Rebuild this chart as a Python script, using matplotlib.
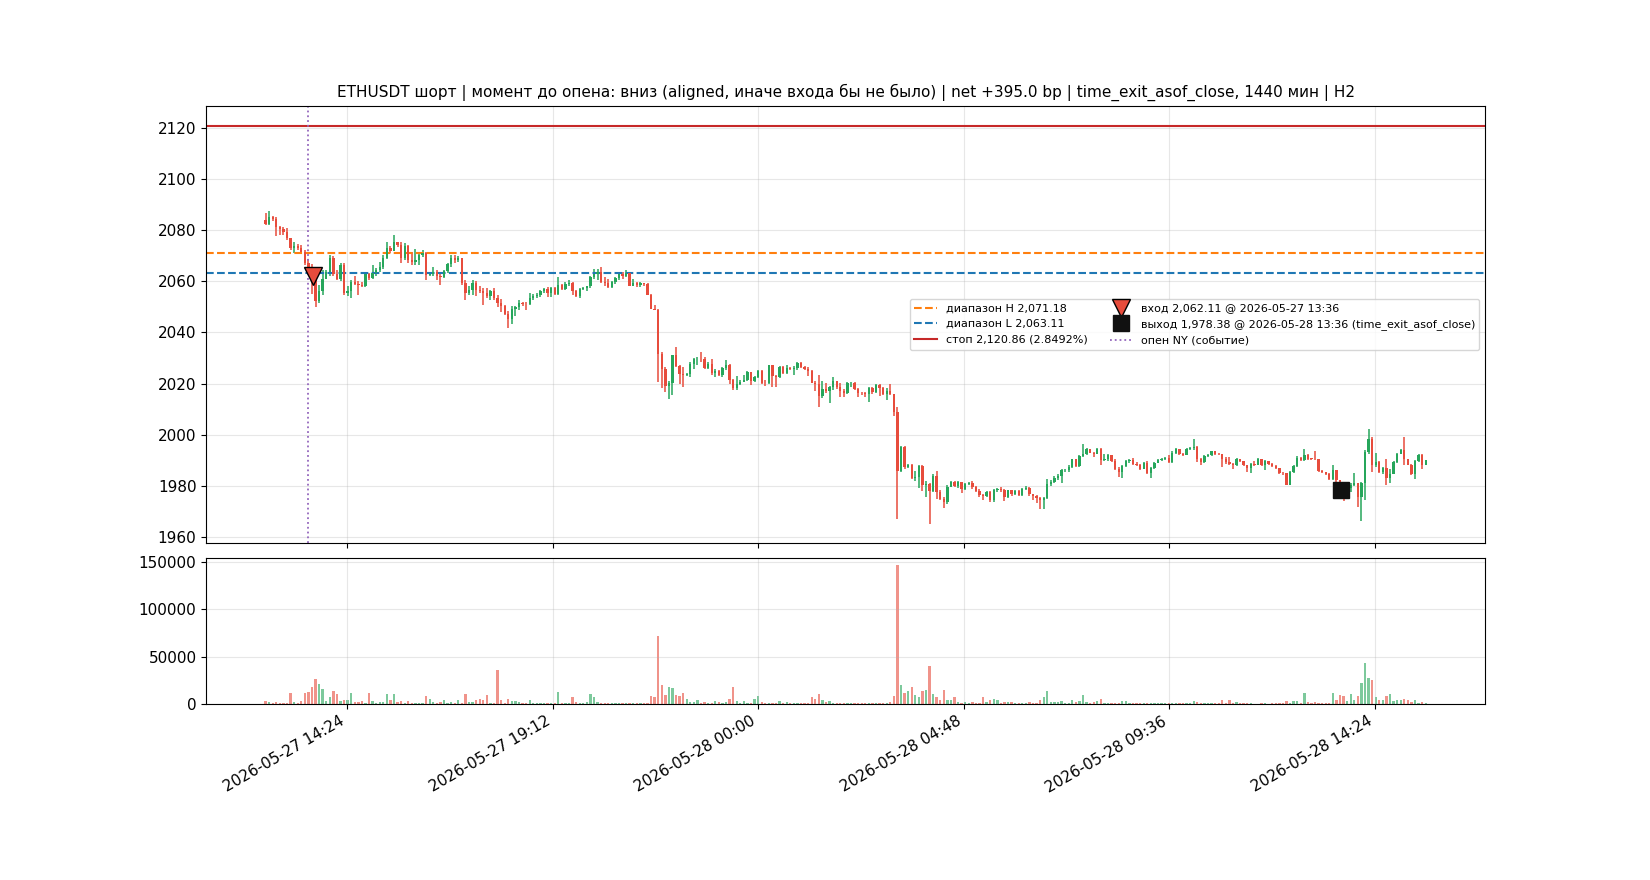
import numpy as np
import pandas as pd
import matplotlib
matplotlib.use('Agg')
import matplotlib.pyplot as plt
import matplotlib.dates as mdates

# ========= DATA (5-min candles) =========

start_time = '2026-05-27 12:30'
first_open = 2084.0

close = [
    2082.2, 2085.0, 2084.2, 2081.3, 2080.6, 2079.1, 2076.8, 2072.9, 2073.6, 2073.0,
    2071.6, 2067.3, 2065.7, 2064.0, 2052.1, 2056.0, 2061.0, 2063.5, 2069.2, 2062.7,
    2061.0, 2066.4, 2055.4, 2056.3, 2059.6, 2059.0, 2058.6, 2058.3, 2062.7, 2061.4,
    2063.1, 2064.4, 2065.7, 2069.2, 2072.9, 2072.0, 2075.2, 2074.1, 2069.0, 2073.8,
    2068.3, 2067.7, 2068.3, 2070.3, 2071.0, 2062.5, 2062.7, 2063.5, 2062.2, 2061.8,
    2064.0, 2066.6, 2069.2, 2068.3, 2069.2, 2059.2, 2055.4, 2056.7, 2059.2, 2056.7,
    2056.0, 2055.4, 2054.1, 2056.3, 2053.4, 2051.5, 2050.3, 2047.3, 2045.3, 2049.0,
    2049.9, 2051.6, 2051.2, 2051.0, 2053.4, 2054.4, 2054.6, 2056.0, 2057.0, 2055.3,
    2057.4, 2055.0, 2058.6, 2057.0, 2059.0, 2059.4, 2056.0, 2054.2, 2057.0, 2057.4,
    2058.0, 2061.6, 2062.9, 2063.8, 2059.6, 2059.2, 2057.7, 2059.6, 2061.2, 2062.9,
    2062.0, 2063.2, 2058.3, 2059.2, 2058.6, 2059.2, 2058.8, 2054.8, 2049.2, 2048.9,
    2031.7, 2025.6, 2019.1, 2020.4, 2031.0, 2027.0, 2023.6, 2023.4, 2023.6, 2027.8,
    2029.5, 2029.8, 2029.5, 2025.9, 2027.8, 2024.0, 2024.9, 2023.3, 2025.9, 2027.4,
    2021.3, 2018.1, 2019.8, 2020.8, 2021.3, 2024.6, 2021.0, 2022.4, 2024.9, 2020.4,
    2020.1, 2027.1, 2023.0, 2022.5, 2026.6, 2024.0, 2026.2, 2025.8, 2026.2, 2028.2,
    2026.6, 2025.8, 2024.9, 2020.4, 2019.7, 2015.2, 2018.0, 2017.1, 2018.8, 2021.0,
    2018.8, 2017.1, 2016.4, 2020.1, 2020.4, 2017.8, 2016.5, 2016.2, 2016.0, 2018.4,
    2016.6, 2019.4, 2018.4, 2015.8, 2017.1, 2015.8, 2008.7, 1986.0, 1995.1, 1987.3,
    1988.2, 1983.0, 1983.6, 1987.7, 1980.2, 1980.8, 1978.2, 1984.0, 1977.6, 1975.0,
    1973.7, 1979.6, 1981.7, 1980.0, 1981.7, 1978.9, 1980.8, 1981.2, 1979.6, 1978.2,
    1976.4, 1976.0, 1977.6, 1974.4, 1978.3, 1978.7, 1978.3, 1975.7, 1978.3, 1976.7,
    1978.1, 1976.4, 1978.7, 1979.0, 1976.7, 1976.0, 1975.1, 1974.5, 1975.3, 1980.9,
    1981.6, 1983.1, 1983.9, 1986.1, 1986.4, 1987.4, 1990.4, 1987.8, 1991.7, 1992.6,
    1994.3, 1993.0, 1992.6, 1994.3, 1990.0, 1990.7, 1992.0, 1989.6, 1986.8, 1985.5,
    1987.8, 1989.6, 1990.0, 1988.4, 1988.1, 1986.8, 1989.1, 1985.2, 1987.0, 1989.1,
    1990.0, 1990.4, 1991.0, 1989.4, 1993.0, 1994.3, 1992.6, 1992.2, 1994.3, 1994.8,
    1995.1, 1990.7, 1989.4, 1991.7, 1992.2, 1993.5, 1992.6, 1992.3, 1990.4, 1989.4,
    1988.7, 1988.3, 1990.4, 1989.6, 1988.1, 1987.0, 1988.7, 1988.2, 1990.4, 1988.1,
    1989.6, 1988.7, 1987.8, 1987.0, 1985.2, 1984.9, 1980.5, 1985.5, 1987.8, 1990.9,
    1990.0, 1992.2, 1990.7, 1990.5, 1990.4, 1985.7, 1985.4, 1984.8, 1982.9, 1986.1,
    1982.2, 1981.6, 1978.5, 1979.0, 1980.3, 1981.0, 1975.7, 1981.0, 1993.3, 1998.4,
    1988.0, 1989.4, 1985.5, 1987.0, 1983.1, 1984.8, 1989.4, 1992.6, 1993.9, 1990.4,
    1988.3, 1984.8, 1989.6, 1992.0, 1988.3, 1990.0,
]

high = [
    2086.5, 2087.4, 2085.6, 2085.0, 2081.5, 2081.0, 2080.9, 2076.8, 2075.2, 2074.6,
    2074.0, 2072.2, 2068.5, 2066.8, 2064.2, 2058.6, 2064.4, 2064.4, 2070.3, 2069.8,
    2064.5, 2067.0, 2067.0, 2058.0, 2060.6, 2062.0, 2060.0, 2059.6, 2063.5, 2063.1,
    2066.4, 2065.0, 2067.7, 2070.3, 2075.5, 2073.8, 2078.1, 2075.5, 2075.5, 2074.8,
    2074.2, 2071.6, 2072.6, 2071.0, 2072.2, 2071.3, 2063.8, 2065.7, 2064.5, 2063.5,
    2064.5, 2067.0, 2070.3, 2070.3, 2070.0, 2067.7, 2060.6, 2058.0, 2060.6, 2059.9,
    2058.0, 2057.4, 2057.4, 2056.7, 2057.4, 2054.8, 2053.1, 2050.8, 2048.5, 2050.3,
    2050.5, 2052.5, 2052.0, 2051.8, 2055.5, 2055.0, 2055.3, 2056.4, 2057.4, 2057.6,
    2057.9, 2057.6, 2061.6, 2059.0, 2059.6, 2060.3, 2059.7, 2056.4, 2057.3, 2057.7,
    2058.3, 2062.2, 2064.6, 2064.8, 2065.5, 2061.6, 2061.0, 2059.9, 2061.6, 2063.2,
    2063.5, 2064.2, 2062.9, 2060.8, 2059.6, 2059.6, 2059.4, 2059.2, 2055.0, 2050.8,
    2049.2, 2032.5, 2026.5, 2020.9, 2031.3, 2034.2, 2027.3, 2026.6, 2024.0, 2028.4,
    2030.0, 2030.4, 2032.3, 2030.3, 2028.4, 2029.8, 2025.6, 2025.2, 2026.5, 2029.1,
    2027.8, 2021.9, 2023.0, 2021.3, 2023.3, 2024.9, 2024.6, 2023.0, 2025.5, 2025.2,
    2021.5, 2027.4, 2027.4, 2023.4, 2027.0, 2026.8, 2027.4, 2026.4, 2026.8, 2028.4,
    2028.4, 2026.8, 2026.4, 2025.5, 2021.0, 2023.2, 2021.0, 2020.3, 2019.0, 2022.4,
    2021.0, 2020.3, 2018.0, 2020.5, 2020.7, 2020.8, 2018.2, 2016.8, 2016.6, 2018.8,
    2018.6, 2019.8, 2019.8, 2018.5, 2018.1, 2019.8, 2016.0, 2011.0, 1995.5, 1995.5,
    1988.6, 1988.6, 1986.0, 1988.0, 1988.0, 1982.0, 1981.2, 1984.6, 1985.8, 1978.5,
    1975.6, 1980.3, 1982.0, 1982.0, 1982.0, 1981.7, 1981.0, 1981.7, 1982.1, 1979.8,
    1978.7, 1977.0, 1978.0, 1978.0, 1978.9, 1979.2, 1979.6, 1978.7, 1978.6, 1978.5,
    1978.6, 1978.3, 1979.1, 1980.0, 1979.6, 1976.8, 1976.4, 1975.5, 1975.6, 1982.8,
    1982.3, 1983.9, 1984.8, 1986.5, 1986.8, 1988.0, 1990.7, 1990.5, 1992.0, 1996.3,
    1995.0, 1994.5, 1993.2, 1994.8, 1994.8, 1992.6, 1992.4, 1992.2, 1990.4, 1987.3,
    1988.1, 1990.0, 1990.4, 1991.0, 1989.2, 1988.6, 1989.4, 1989.6, 1987.4, 1989.4,
    1990.4, 1991.0, 1991.4, 1992.2, 1993.5, 1994.8, 1994.6, 1993.0, 1994.7, 1995.4,
    1998.2, 1995.8, 1991.0, 1992.0, 1992.5, 1993.8, 1993.8, 1993.0, 1992.6, 1991.2,
    1991.2, 1989.0, 1990.8, 1990.6, 1989.8, 1988.3, 1989.0, 1989.6, 1990.8, 1990.6,
    1990.0, 1989.8, 1988.8, 1988.0, 1987.2, 1985.6, 1985.0, 1986.0, 1988.1, 1991.8,
    1991.2, 1994.3, 1992.5, 1991.0, 1993.8, 1990.6, 1986.2, 1985.6, 1985.0, 1988.0,
    1986.4, 1982.5, 1981.6, 1980.0, 1981.0, 1985.0, 1981.2, 1981.7, 1994.0, 2002.3,
    1999.0, 1993.0, 1989.9, 1987.4, 1990.6, 1986.8, 1989.8, 1993.0, 1994.3, 1999.0,
    1990.6, 1988.5, 1990.0, 1992.3, 1992.6, 1990.3,
]

low = [
    2082.0, 2082.0, 2083.5, 2077.8, 2078.0, 2078.0, 2076.2, 2072.3, 2071.0, 2072.3,
    2071.0, 2066.4, 2065.0, 2055.0, 2049.8, 2051.4, 2054.8, 2061.0, 2062.2, 2062.2,
    2060.6, 2060.0, 2054.8, 2054.1, 2053.4, 2058.6, 2054.5, 2057.7, 2057.7, 2060.6,
    2060.8, 2062.2, 2063.8, 2064.8, 2068.6, 2071.0, 2071.8, 2073.5, 2067.0, 2068.3,
    2067.0, 2066.4, 2066.4, 2066.4, 2069.6, 2060.5, 2062.0, 2062.0, 2060.5, 2058.6,
    2061.2, 2063.1, 2065.7, 2067.0, 2067.4, 2058.6, 2052.8, 2054.5, 2054.8, 2054.1,
    2055.4, 2050.8, 2053.4, 2052.8, 2052.8, 2050.0, 2048.0, 2046.9, 2041.8, 2043.4,
    2046.6, 2048.6, 2050.5, 2048.6, 2050.8, 2052.8, 2053.5, 2054.0, 2055.3, 2054.0,
    2054.0, 2054.6, 2054.6, 2056.7, 2056.7, 2058.1, 2054.8, 2053.8, 2053.4, 2056.4,
    2056.0, 2057.3, 2061.0, 2060.3, 2059.4, 2058.3, 2057.3, 2057.4, 2059.1, 2060.6,
    2061.0, 2061.8, 2058.0, 2058.0, 2057.7, 2057.7, 2058.3, 2054.6, 2049.0, 2048.6,
    2020.7, 2018.1, 2016.6, 2014.0, 2015.5, 2026.6, 2020.0, 2018.8, 2023.0, 2022.4,
    2025.6, 2027.4, 2028.5, 2025.6, 2025.6, 2023.3, 2022.4, 2022.8, 2022.6, 2025.5,
    2020.0, 2017.4, 2017.6, 2019.4, 2020.5, 2020.9, 2019.6, 2020.8, 2022.0, 2019.8,
    2019.2, 2019.8, 2018.8, 2018.8, 2022.0, 2023.6, 2023.6, 2025.4, 2023.3, 2025.3,
    2026.2, 2025.4, 2023.0, 2020.1, 2017.0, 2011.0, 2014.5, 2016.5, 2012.6, 2017.5,
    2017.7, 2014.6, 2014.6, 2016.0, 2018.5, 2017.4, 2014.6, 2015.6, 2014.6, 2012.8,
    2016.0, 2016.2, 2015.0, 2015.4, 2013.7, 2015.4, 2007.5, 1967.2, 1985.6, 1986.6,
    1986.9, 1982.7, 1982.0, 1979.0, 1978.2, 1975.7, 1965.3, 1977.6, 1975.0, 1974.4,
    1971.4, 1973.0, 1979.6, 1979.6, 1979.0, 1977.2, 1978.5, 1980.5, 1978.9, 1977.8,
    1975.7, 1974.4, 1975.5, 1973.7, 1973.7, 1977.8, 1977.6, 1974.1, 1975.3, 1976.2,
    1976.5, 1976.0, 1976.2, 1978.3, 1976.2, 1974.4, 1973.2, 1971.0, 1971.0, 1974.9,
    1980.1, 1981.3, 1982.5, 1981.3, 1985.6, 1985.5, 1987.2, 1987.4, 1987.4, 1991.4,
    1992.2, 1992.7, 1991.4, 1992.4, 1988.3, 1989.9, 1989.6, 1989.2, 1986.3, 1983.3,
    1983.1, 1987.4, 1989.0, 1988.0, 1987.8, 1986.2, 1986.5, 1984.8, 1983.1, 1986.8,
    1988.8, 1989.8, 1990.0, 1989.0, 1989.1, 1992.6, 1992.2, 1991.8, 1991.9, 1993.9,
    1994.2, 1989.4, 1988.1, 1989.1, 1991.2, 1991.8, 1992.2, 1992.0, 1987.4, 1988.7,
    1988.2, 1986.8, 1987.9, 1989.2, 1987.6, 1985.5, 1985.2, 1987.8, 1988.0, 1987.8,
    1986.3, 1988.3, 1987.4, 1986.5, 1984.8, 1984.4, 1980.2, 1980.2, 1985.2, 1987.5,
    1989.6, 1989.8, 1990.2, 1990.1, 1990.0, 1985.3, 1984.9, 1984.4, 1982.2, 1982.5,
    1981.5, 1980.8, 1974.0, 1976.0, 1977.8, 1979.9, 1971.8, 1966.3, 1974.6, 1992.6,
    1985.5, 1987.4, 1985.2, 1984.6, 1980.3, 1981.0, 1984.5, 1989.0, 1992.4, 1988.3,
    1988.0, 1984.4, 1982.9, 1989.3, 1986.8, 1988.0,
]

volume = [
    3600, 2500, 700, 2500, 700, 1400, 1400, 11200, 2500, 1400,
    3600, 11200, 12300, 17700, 26400, 21000, 15600, 3600, 6900, 13400,
    10100, 3600, 4700, 4700, 11200, 2500, 2500, 3600, 700, 11200,
    3600, 1400, 2500, 2500, 10100, 4700, 10100, 2500, 3600, 1400,
    3600, 700, 1400, 1400, 700, 8000, 5800, 2500, 1400, 2500,
    4700, 700, 2500, 700, 4700, 1400, 10100, 2500, 2500, 4700,
    5800, 4700, 9000, 1400, 700, 36200, 4700, 1400, 5800, 3600,
    3600, 2500, 700, 1400, 4700, 700, 1400, 700, 1400, 700,
    700, 700, 12300, 700, 1400, 700, 6900, 2500, 700, 700,
    2500, 10100, 6900, 2500, 1400, 1400, 700, 700, 700, 700,
    1400, 700, 700, 700, 700, 700, 700, 700, 8000, 6900,
    72400, 19900, 9000, 17700, 16700, 9000, 8000, 11200, 5800, 2500,
    2500, 4700, 1400, 2500, 700, 1400, 3600, 2500, 1400, 2500,
    5800, 17700, 3600, 1400, 3600, 700, 1400, 5800, 8000, 2500,
    1400, 1400, 1400, 1400, 3600, 700, 2500, 700, 700, 700,
    700, 1400, 700, 6900, 5800, 10100, 4700, 2500, 3600, 700,
    700, 700, 700, 700, 1400, 700, 1400, 700, 700, 1400,
    1400, 1400, 700, 700, 1400, 2500, 8000, 147000, 19900, 11200,
    13400, 17700, 9000, 6900, 13400, 14500, 40500, 10100, 6900, 4700,
    14500, 4700, 4700, 6900, 2500, 1400, 2500, 700, 2500, 1400,
    700, 6900, 2500, 4700, 5800, 4700, 1400, 2500, 2500, 2500,
    1400, 700, 1400, 700, 2500, 1400, 1400, 4700, 6900, 13400,
    2500, 2500, 2500, 3600, 1400, 1400, 4700, 2500, 3600, 9000,
    2500, 1400, 2500, 3600, 5800, 700, 1400, 700, 1400, 1400,
    3600, 3600, 700, 1400, 700, 1400, 700, 700, 700, 700,
    1400, 700, 700, 1400, 1400, 1400, 700, 700, 700, 700,
    3600, 2500, 1400, 700, 700, 700, 700, 1400, 4700, 1400,
    4700, 1400, 2500, 1400, 1400, 1400, 700, 300, 300, 700,
    1400, 300, 700, 700, 700, 1400, 3600, 1400, 3600, 3600,
    1400, 11200, 2500, 700, 2500, 1400, 1400, 1400, 1400, 11200,
    4700, 9000, 8000, 3600, 10100, 4700, 8000, 22100, 43800, 27500,
    25300, 6900, 4700, 4700, 8000, 10100, 3600, 4700, 4700, 5800,
    4700, 2500, 4700, 700, 2500, 700,
]

range_high = 2071.18
range_low = 2063.11
stop_price = 2120.86
stop_pct = 2.8492
entry_time, entry_price = '2026-05-27 13:36', 2062.11
exit_time, exit_price = '2026-05-28 13:36', 1978.38
ny_open_time = '2026-05-27 13:30'

title = ("ETHUSDT шорт | момент до опена: вниз (aligned, иначе входа бы не было) | "
         "net +395.0 bp | time_exit_asof_close, 1440 мин | H2")

up_color = '#26a65b'
down_color = '#e74c3c'

# ========= PREP =========

c = np.array(close)
o = np.concatenate([[first_open], c[:-1]])
h = np.maximum(np.array(high), np.maximum(o, c))
l = np.minimum(np.array(low), np.minimum(o, c))
v = np.array(volume)

times = pd.date_range(start_time, periods=len(c), freq='5min')
x = mdates.date2num(times.to_pydatetime())
step = 5 / 1440
width = step * 0.65

up = c >= o
colors = np.where(up, up_color, down_color)

# ========= PLOT =========

plt.rcParams['xtick.labelsize'] = 11
plt.rcParams['ytick.labelsize'] = 11

fig = plt.figure(figsize=(16.5, 8.8), dpi=100)
gs = fig.add_gridspec(2, 1, height_ratios=[3, 1], hspace=0.05)
ax = fig.add_subplot(gs[0])
axv = fig.add_subplot(gs[1], sharex=ax)

# candles
ax.vlines(x, l, h, colors=colors, linewidth=1.1, zorder=2)
body_bottom = np.minimum(o, c)
body_height = np.maximum(np.abs(c - o), 0.25)
ax.bar(x, body_height, bottom=body_bottom, width=width, color=colors,
       linewidth=0, zorder=3)

ax.axhline(range_high, color='tab:orange', linestyle='--', linewidth=1.5,
           label=f'диапазон H {range_high:,.2f}')
ax.axhline(range_low, color='tab:blue', linestyle='--', linewidth=1.5,
           label=f'диапазон L {range_low:,.2f}')
ax.axhline(stop_price, color='#c62828', linestyle='-', linewidth=1.5,
           label=f'стоп {stop_price:,.2f} ({stop_pct:.4f}%)')

ax.plot([mdates.date2num(pd.Timestamp(entry_time))], [entry_price], marker='v',
        color=down_color, markeredgecolor='black', markersize=13, linestyle='None',
        zorder=5, label=f'вход {entry_price:,.2f} @ {entry_time}')
ax.plot([mdates.date2num(pd.Timestamp(exit_time))], [exit_price], marker='s',
        color='#111111', markersize=11, linestyle='None', zorder=5,
        label=f'выход {exit_price:,.2f} @ {exit_time} (time_exit_asof_close)')
ax.axvline(mdates.date2num(pd.Timestamp(ny_open_time)), color='tab:purple',
           linestyle=':', linewidth=1.3, label='опен NY (событие)')

ax.set_title(title, fontsize=11)
ax.grid(True, alpha=0.3)
ax.legend(loc='center right', ncol=2, fontsize=8)

# volume
axv.bar(x, v, width=width, color=colors, alpha=0.6, linewidth=0)
axv.grid(True, alpha=0.3)

axv.xaxis.set_major_formatter(mdates.DateFormatter('%Y-%m-%d %H:%M'))
fig.autofmt_xdate()

fig.savefig('out.png', dpi=100)
